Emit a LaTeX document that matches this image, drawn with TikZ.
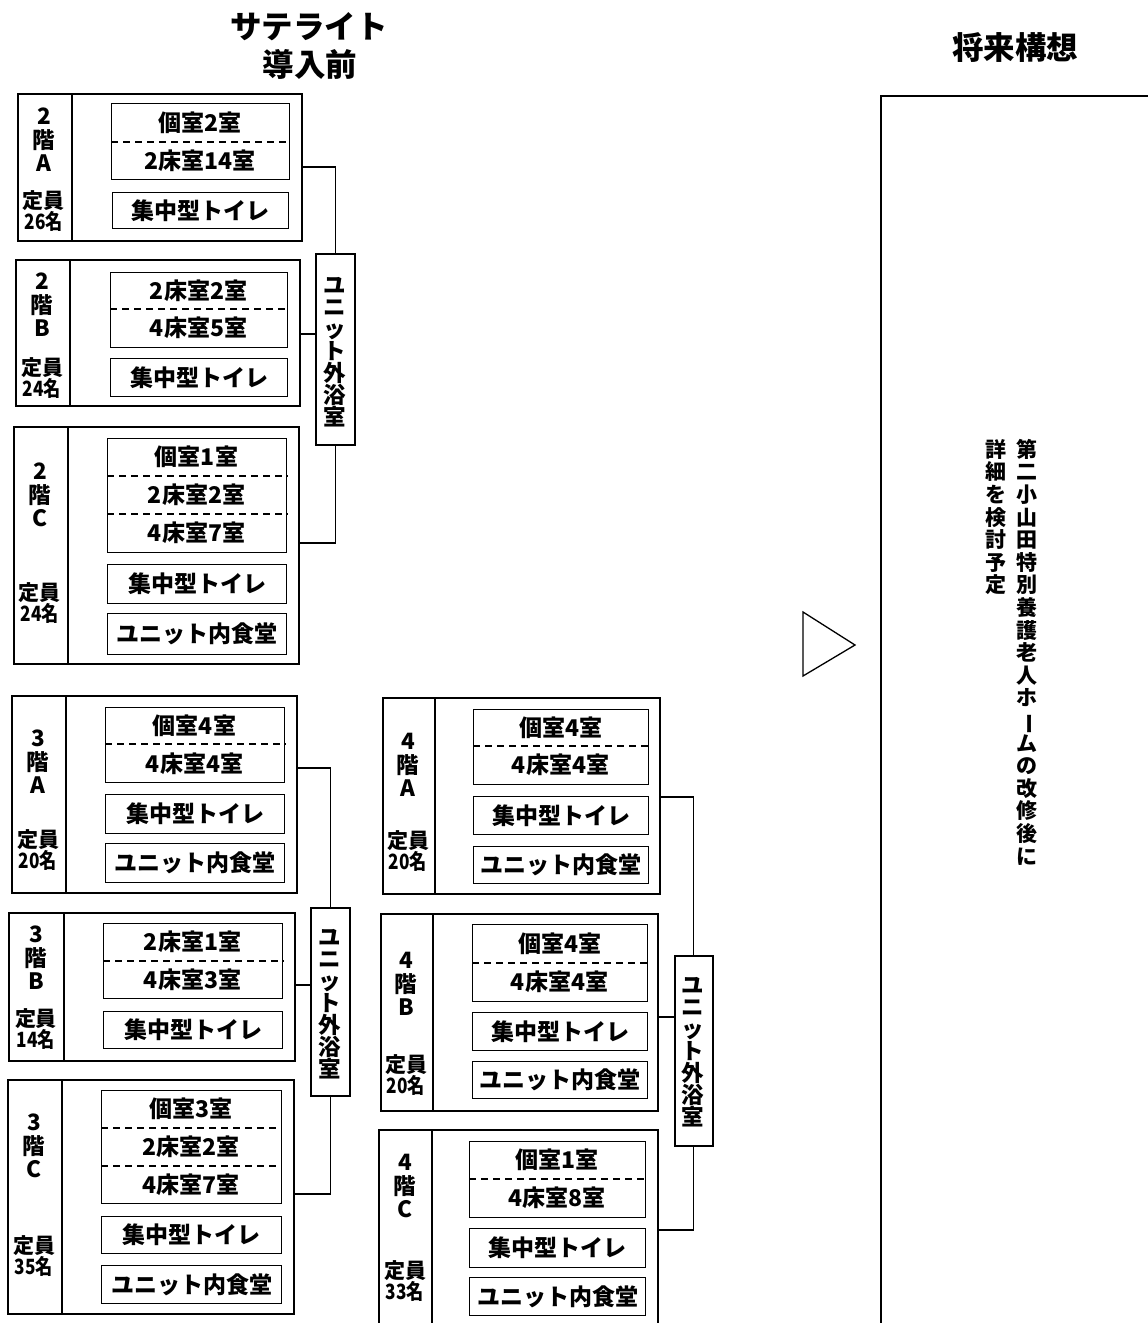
\documentclass[tikz,border=0pt]{standalone}
\usepackage{fontspec}
\setmainfont{Noto Sans CJK JP}
\usetikzlibrary{calc}
\tikzset{
  blk/.style={draw, line width=1.6pt, inner sep=0pt, anchor=north west},
  blkline/.style={line width=1.6pt},
  inr/.style={draw, line width=1.4pt, inner sep=0pt, anchor=north west,
    font=\fontsize{23}{25}\selectfont\bfseries, text height=20.2pt, text depth=2.8pt},
  conn/.style={line width=1.2pt},
  dsh/.style={line width=1.2pt, dash pattern=on 7pt off 5pt},
  rt/.style={font=\fontsize{23}{25}\selectfont\bfseries, inner sep=0pt, text height=20.2pt, text depth=2.8pt},
  lab/.style={font=\fontsize{22.5}{23.5}\selectfont\bfseries, align=center, inner sep=0pt},
  lab2/.style={font=\fontsize{21}{21.5}\selectfont\bfseries, align=center, inner sep=0pt},
  vt/.style={font=\fontsize{22.5}{22}\selectfont\bfseries, align=center, inner sep=0pt},
  vt2/.style={font=\fontsize{21}{22.6}\selectfont\bfseries, align=center, inner sep=0pt, anchor=north},
  ttl/.style={font=\fontsize{31.5}{33}\selectfont\bfseries, inner sep=0pt}
}
\newcommand\bxx[7]{%
  \pgfmathsetmacro\bw{#5-#3}\pgfmathsetmacro\bh{#6-#4}%
  \node[#1, minimum width=\bw pt, minimum height=\bh pt] (#2) at (#3,#4) {#7};}
\newcommand\cnd[1]{\scalebox{0.82}[1]{#1}}
\begin{document}
\begin{tikzpicture}[x=1pt,y=-1pt]
\path[use as bounding box] (0,0) rectangle (1148,1323);
\clip (0,0) rectangle (1148,1323);

% titles
\node[ttl] (t1) at (309,27) {サテライト};
\node[ttl] (t2) at (310,64) {導入前};
\node[ttl] (t3) at (1015,48) {将来構想};

% ===== 2F A =====
\bxx{blk}{o2a}{17}{93}{301}{240}{}
\draw[blkline] (72,93) -- (72,240);
\node[lab] (l2a) at (44,140) {2\\階\\A};
\node[lab2] (c2a) at (44,211) {定員\\\cnd{26名}};
\bxx{inr}{r2a}{111}{103}{289}{179}{}
\draw[dsh] (r2a.west |- 0,142) -- (r2a.east |- 0,142);
\node[rt] (r2a1) at (200,122.5) {個室2室};
\node[rt] (r2a2) at (200,160.5) {2床室14室};
\bxx{inr}{t2a}{112}{192}{288}{228}{集中型トイレ}

% ===== 2F B =====
\bxx{blk}{o2b}{15}{259}{299}{405}{}
\draw[blkline] (70,259) -- (70,405);
\node[lab] (l2b) at (42,305) {2\\階\\B};
\node[lab2] (c2b) at (42,378) {定員\\\cnd{24名}};
\bxx{inr}{r2b}{110}{272}{287}{347}{}
\draw[dsh] (r2b.west |- 0,309) -- (r2b.east |- 0,309);
\node[rt] (r2b1) at (198.5,290.5) {2床室2室};
\node[rt] (r2b2) at (198.5,328) {4床室5室};
\bxx{inr}{t2b}{110}{358}{287}{396}{集中型トイレ}

% ===== 2F C =====
\bxx{blk}{o2c}{13}{426}{298}{663}{}
\draw[blkline] (68,426) -- (68,663);
\node[lab] (l2c) at (40,495) {2\\階\\C};
\node[lab2] (c2c) at (40,603) {定員\\\cnd{24名}};
\bxx{inr}{r2c}{107}{438}{286}{552}{}
\draw[dsh] (r2c.west |- 0,476) -- (r2c.east |- 0,476);
\draw[dsh] (r2c.west |- 0,514) -- (r2c.east |- 0,514);
\node[rt] (r2c1) at (196.5,457) {個室1室};
\node[rt] (r2c2) at (196.5,495) {2床室2室};
\node[rt] (r2c3) at (196.5,533) {4床室7室};
\bxx{inr}{t2c}{107}{564}{286}{603}{集中型トイレ}
\bxx{inr}{d2c}{107}{613}{286}{654}{ユニット内食堂}

% 2F bath
\bxx{blk}{b2}{315}{253}{354}{444}{}
\node[vt] (b2t) at (334.5,352) {ユ\\ニ\\ッ\\ト\\外\\浴\\室};
\draw[conn] (o2a.east |- 0,167) -| (b2.north);
\draw[conn] (o2b.east |- 0,334) -- (b2.west |- 0,334);
\draw[conn] (o2c.east |- 0,543) -| (b2.south);

% ===== 3F A =====
\bxx{blk}{o3a}{11}{695}{296}{892}{}
\draw[blkline] (66,695) -- (66,892);
\node[lab] (l3a) at (38,762) {3\\階\\A};
\node[lab2] (c3a) at (38,850) {定員\\\cnd{20名}};
\bxx{inr}{r3a}{105}{707}{284}{782}{}
\draw[dsh] (r3a.west |- 0,744) -- (r3a.east |- 0,744);
\node[rt] (r3a1) at (194.5,725.5) {個室4室};
\node[rt] (r3a2) at (194.5,763.5) {4床室4室};
\bxx{inr}{t3a}{105}{794}{284}{833}{集中型トイレ}
\bxx{inr}{d3a}{105}{843}{284}{882}{ユニット内食堂}

% ===== 3F B =====
\bxx{blk}{o3b}{8}{912}{294}{1060}{}
\draw[blkline] (64,912) -- (64,1060);
\node[lab] (l3b) at (36,958) {3\\階\\B};
\node[lab2] (c3b) at (36,1029) {定員\\\cnd{14名}};
\bxx{inr}{r3b}{103}{923}{282}{998}{}
\draw[dsh] (r3b.west |- 0,961) -- (r3b.east |- 0,961);
\node[rt] (r3b1) at (192.5,942) {2床室1室};
\node[rt] (r3b2) at (192.5,980) {4床室3室};
\bxx{inr}{t3b}{103}{1011}{282}{1048}{集中型トイレ}

% ===== 3F C =====
\bxx{blk}{o3c}{7}{1079}{293}{1313}{}
\draw[blkline] (62,1079) -- (62,1313);
\node[lab] (l3c) at (34,1146) {3\\階\\C};
\node[lab2] (c3c) at (34,1256) {定員\\\cnd{35名}};
\bxx{inr}{r3c}{101}{1090}{281}{1203}{}
\draw[dsh] (r3c.west |- 0,1128) -- (r3c.east |- 0,1128);
\draw[dsh] (r3c.west |- 0,1166) -- (r3c.east |- 0,1166);
\node[rt] (r3c1) at (191,1109) {個室3室};
\node[rt] (r3c2) at (191,1147) {2床室2室};
\node[rt] (r3c3) at (191,1185) {4床室7室};
\bxx{inr}{t3c}{101}{1216}{281}{1253}{集中型トイレ}
\bxx{inr}{d3c}{101}{1265}{281}{1303}{ユニット内食堂}

% 3F bath
\bxx{blk}{b3}{310}{907}{349}{1095}{}
\node[vt] (b3t) at (329.5,1004) {ユ\\ニ\\ッ\\ト\\外\\浴\\室};
\draw[conn] (o3a.east |- 0,768) -| (b3.north);
\draw[conn] (o3b.east |- 0,985) -- (b3.west |- 0,985);
\draw[conn] (o3c.east |- 0,1194) -| (b3.south);

% ===== 4F A =====
\bxx{blk}{o4a}{382}{697}{659}{893}{}
\draw[blkline] (435,697) -- (435,893);
\node[lab] (l4a) at (408,765) {4\\階\\A};
\node[lab2] (c4a) at (408,851) {定員\\\cnd{20名}};
\bxx{inr}{r4a}{473}{709}{648}{784}{}
\draw[dsh] (r4a.west |- 0,746) -- (r4a.east |- 0,746);
\node[rt] (r4a1) at (560.5,727.5) {個室4室};
\node[rt] (r4a2) at (560.5,765) {4床室4室};
\bxx{inr}{t4a}{473}{796}{648}{834}{集中型トイレ}
\bxx{inr}{d4a}{473}{846}{648}{883}{ユニット内食堂}

% ===== 4F B =====
\bxx{blk}{o4b}{380}{913}{657}{1110}{}
\draw[blkline] (433,913) -- (433,1110);
\node[lab] (l4b) at (406,984) {4\\階\\B};
\node[lab2] (c4b) at (406,1075) {定員\\\cnd{20名}};
\bxx{inr}{r4b}{472}{924}{647}{1001}{}
\draw[dsh] (r4b.west |- 0,963) -- (r4b.east |- 0,963);
\node[rt] (r4b1) at (559.5,943.5) {個室4室};
\node[rt] (r4b2) at (559.5,982) {4床室4室};
\bxx{inr}{t4b}{472}{1012}{647}{1050}{集中型トイレ}
\bxx{inr}{d4b}{472}{1061}{647}{1098}{ユニット内食堂}

% ===== 4F C =====
\bxx{blk}{o4c}{378}{1129}{657}{1345}{}
\draw[blkline] (432,1129) -- (432,1345);
\node[lab] (l4c) at (405,1186) {4\\階\\C};
\node[lab2] (c4c) at (405,1281) {定員\\\cnd{33名}};
\bxx{inr}{r4c}{469}{1141}{645}{1217}{}
\draw[dsh] (r4c.west |- 0,1179) -- (r4c.east |- 0,1179);
\node[rt] (r4c1) at (557,1160) {個室1室};
\node[rt] (r4c2) at (557,1198) {4床室8室};
\bxx{inr}{t4c}{469}{1228}{645}{1267}{集中型トイレ}
\bxx{inr}{d4c}{469}{1277}{645}{1315}{ユニット内食堂}

% 4F bath
\bxx{blk}{b4}{674}{955}{712}{1145}{}
\node[vt] (b4t) at (693,1052) {ユ\\ニ\\ッ\\ト\\外\\浴\\室};
\draw[conn] (o4a.east |- 0,797) -| (b4.north);
\draw[conn] (o4b.east |- 0,1017) -- (b4.west |- 0,1017);
\draw[conn] (o4c.east |- 0,1230) -| (b4.south);

% arrow triangle
\draw[line width=1.3pt, line join=miter] (803,612) -- (803,676) -- (855,645) -- cycle;

% future box
\bxx{blk}{fut}{880}{95}{1170}{1345}{}
\node[vt2] (f1) at (1027,439) {第\\二\\小\\山\\田\\特\\別\\養\\護\\老\\人\\ホ\\\rotatebox[origin=c]{-90}{ー}\\ム\\の\\改\\修\\後\\に};
\node[vt2] (f2) at (996,439) {詳\\細\\を\\検\\討\\予\\定};
\end{tikzpicture}
\end{document}
